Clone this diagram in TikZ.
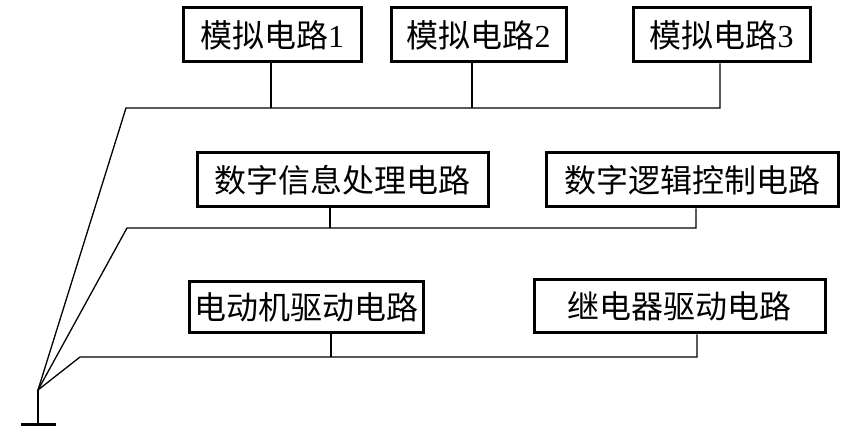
\documentclass[tikz,border=0pt]{standalone}
\usepackage{fontspec}
\setmainfont{Liberation Serif}
\newfontfamily\cjk{Noto Sans CJK SC}
\begin{document}
\begin{tikzpicture}[x=0.5pt,y=-0.5pt,
    blk/.style={draw=black,line width=1.5pt,inner sep=0pt,
        minimum height=27pt,font=\fontsize{16}{16}\selectfont},
    wire/.style={line width=0.65pt}]
        \useasboundingbox (0,0) rectangle (857,438);
        \node[blk,minimum width=89pt] (A1) at (272,35) {{\cjk 模拟电路}1};
        \node[blk,minimum width=87.5pt] (A2) at (478.5,35) {{\cjk 模拟电路}2};
        \node[blk,minimum width=88.5pt] (A3) at (721.5,35) {{\cjk 模拟电路}3};
        \node[blk,minimum width=145.5pt] (D1) at (342.5,180) {\cjk 数字信息处理电路};
        \node[blk,minimum width=146pt] (D2) at (692,180) {\cjk 数字逻辑控制电路};
        \node[blk,minimum width=117pt,minimum height=25.5pt] (M1) at (306,307.5) {\cjk 电动机驱动电路};
        \node[blk,minimum width=145.5pt,minimum height=26.5pt] (M2) at (679.5,306.5) {\cjk 继电器驱动电路};

        % ground point and bus corners
        \coordinate (g) at (38,390);
        \coordinate (gnd) at (38,424);
        \coordinate (b1) at (126,108);
        \coordinate (b2) at (127,228);
        \coordinate (b3) at (80,357);
        \coordinate (t1) at (271,108);
        \coordinate (t2) at (472,108);
        \coordinate (t3) at (720,108);
        \coordinate (u1) at (330,228);
        \coordinate (u2) at (696,228);
        \coordinate (v1) at (331,357);
        \coordinate (v2) at (697,357);

        % analog bus
        \path [wire, draw] (g) -- (b1) -- (t3) -- (A3.south -| t3);
        \path [wire, draw] (A1.south -| t1) -- (t1);
        \path [wire, draw] (A2.south -| t2) -- (t2);
        % digital bus
        \path [wire, draw] (g) -- (b2) -- (u2) -- (D2.south -| u2);
        \path [wire, draw] (D1.south -| u1) -- (u1);
        % drive bus
        \path [wire, draw] (g) -- (b3) -- (v2) -- (M2.south -| v2);
        \path [wire, draw] (M1.south -| v1) -- (v1);

        % ground
        \path [wire, draw] (g) -- (gnd);
        \path [draw, line width=1.5pt] ([xshift=-8.5pt]gnd) -- ([xshift=9pt]gnd);
\end{tikzpicture}
\end{document}
